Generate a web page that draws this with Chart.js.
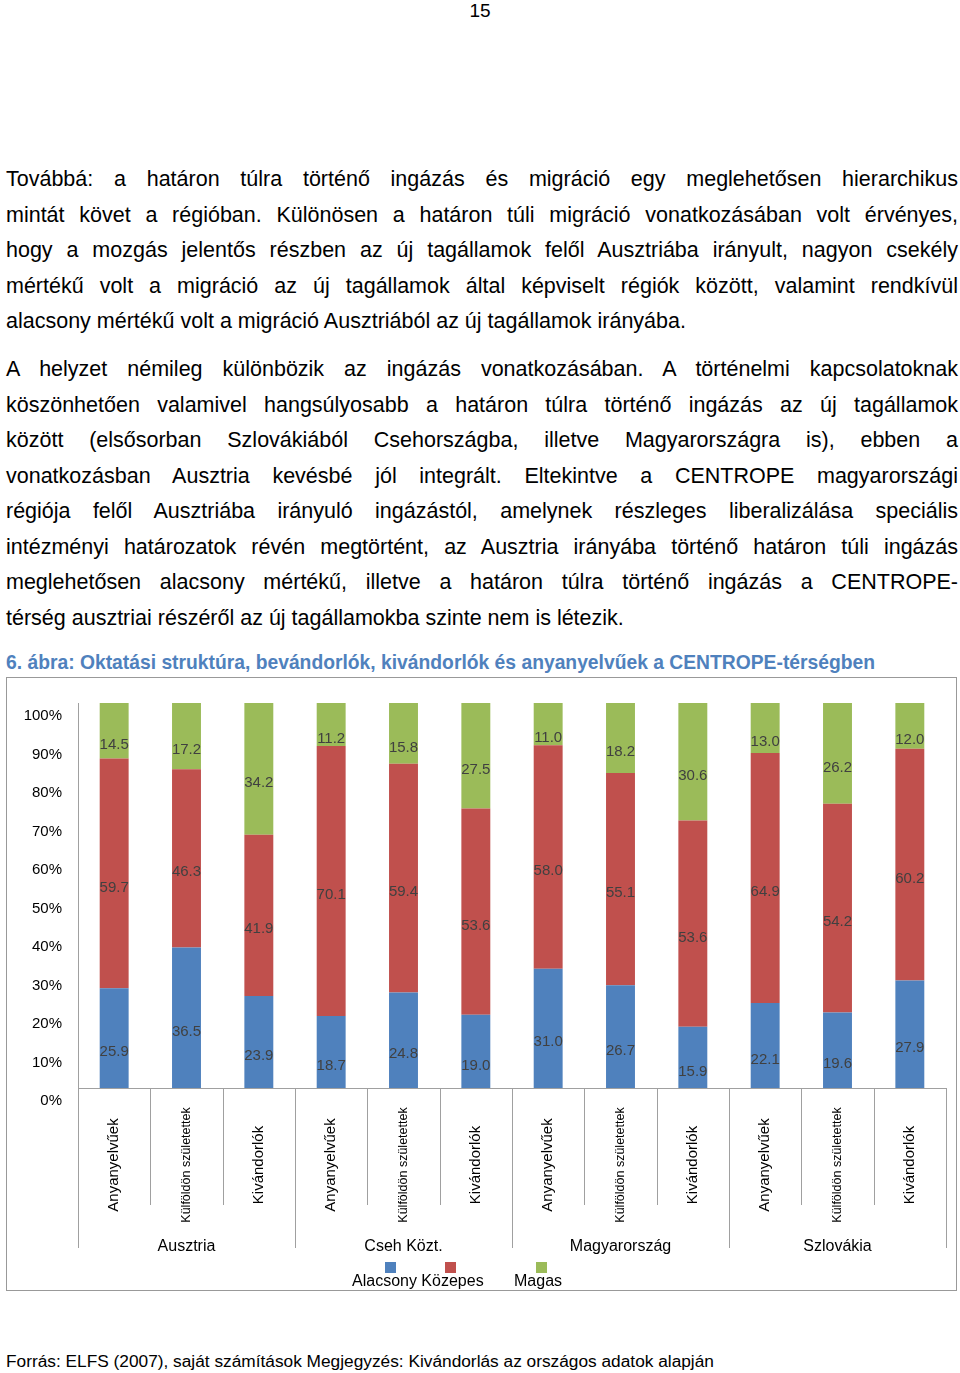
<!DOCTYPE html>
<html><head><meta charset="utf-8">
<script src="https://cdn.jsdelivr.net/npm/chart.js@4/dist/chart.umd.min.js"></script>
<style>
body{margin:0;width:960px;height:1373px;position:relative;font-family:"Liberation Sans",Arial,sans-serif;background:#fff;}
.p{position:absolute;left:6px;width:952px;font-size:21.5px;line-height:35.5px;text-align:justify;text-align-last:justify;color:#000;margin:0}
.last{text-align-last:left}
#box{position:absolute;left:6px;top:677px;width:951px;height:614px;border:1px solid #999;box-sizing:border-box}
canvas{position:absolute;left:0;top:0}
</style></head><body>
<div style="position:absolute;top:0;left:0;width:960px;text-align:center;font-size:19px">15</div>
<p class="p" style="top:162px">Továbbá: a határon túlra történő ingázás és migráció egy meglehetősen hierarchikus<br>mintát követ a régióban. Különösen a határon túli migráció vonatkozásában volt érvényes,<br>hogy a mozgás jelentős részben az új tagállamok felől Ausztriába irányult, nagyon csekély<br>mértékű volt a migráció az új tagállamok által képviselt régiók között, valamint rendkívül</p>
<p class="p last" style="top:304px">alacsony mértékű volt a migráció Ausztriából az új tagállamok irányába.</p>
<p class="p" style="top:352px">A helyzet némileg különbözik az ingázás vonatkozásában. A történelmi kapcsolatoknak<br>köszönhetően valamivel hangsúlyosabb a határon túlra történő ingázás az új tagállamok<br>között (elsősorban Szlovákiából Csehországba, illetve Magyarországra is), ebben a<br>vonatkozásban Ausztria kevésbé jól integrált. Eltekintve a CENTROPE magyarországi<br>régiója felől Ausztriába irányuló ingázástól, amelynek részleges liberalizálása speciális<br>intézményi határozatok révén megtörtént, az Ausztria irányába történő határon túli ingázás<br>meglehetősen alacsony mértékű, illetve a határon túlra történő ingázás a CENTROPE-</p>
<p class="p last" style="top:601px">térség ausztriai részéről az új tagállamokba szinte nem is létezik.</p>
<div style="position:absolute;left:6px;top:652px;font-size:19.3px;font-weight:bold;color:#4F81BD;white-space:nowrap">6. ábra: Oktatási struktúra, bevándorlók, kivándorlók és anyanyelvűek a CENTROPE-térségben</div>
<div id="box"><canvas id="c" width="951" height="614"></canvas></div>
<div style="position:absolute;left:6px;top:1351px;font-size:17.3px;white-space:nowrap">Forrás: ELFS (2007), saját számítások Megjegyzés: Kivándorlás az országos adatok alapján</div>
<script>
const subLabels=["Anyanyelvűek","Külföldön születettek","Kivándorlók","Anyanyelvűek","Külföldön születettek","Kivándorlók","Anyanyelvűek","Külföldön születettek","Kivándorlók","Anyanyelvűek","Külföldön születettek","Kivándorlók"];
const groups=["Ausztria","Cseh Közt.","Magyarország","Szlovákia"];
const alacsony=[25.9,36.5,23.9,18.7,24.8,19.0,31.0,26.7,15.9,22.1,19.6,27.9];
const kozepes=[59.7,46.3,41.9,70.1,59.4,53.6,58.0,55.1,53.6,64.9,54.2,60.2];
const magas=[14.5,17.2,34.2,11.2,15.8,27.5,11.0,18.2,30.6,13.0,26.2,12.0];
const yTicks=[0,10,20,30,40,50,60,70,80,90,100];
const F='"Liberation Sans",Arial,sans-serif';
const deco={id:'deco',afterDatasetsDraw(ch){
 const c=ch.ctx,x=ch.scales.x,ar=ch.chartArea;
 c.save();
 c.fillStyle='#404040';c.font='15px '+F;c.textAlign='center';c.textBaseline='middle';
 ch.data.datasets.forEach((ds,di)=>{ch.getDatasetMeta(di).data.forEach((b,i)=>{
   const mid=(b.y+b.base)/2; c.fillText(ds.data[i].toFixed(1),b.x,mid+14);});});
 c.strokeStyle='#a0a0a0';c.lineWidth=1;
 c.beginPath();c.moveTo(ar.left,ar.bottom+0.5);c.lineTo(ar.right,ar.bottom+0.5);c.stroke();
 const w=(ar.right-ar.left)/12;
 for(let i=0;i<=12;i++){const xx=Math.round(ar.left+i*w)+0.5;c.beginPath();c.moveTo(xx,ar.bottom);c.lineTo(xx,i%3==0?ar.bottom+160:ar.bottom+117);c.stroke();}
 c.fillStyle='#000';
 subLabels.forEach((l,i)=>{c.save();c.translate(x.getPixelForValue(i),ar.bottom+77);c.rotate(-Math.PI/2);
   c.font=(l.startsWith('Kül')?'12.5px ':'15px ')+F;c.fillText(l,0,0);c.restore();});
 c.font='16px '+F;
 groups.forEach((g,k)=>c.fillText(g,ar.left+(k*3+1.5)*w,ar.bottom+159));
 const lg=[['#4F81BD',384,'Alacsony'],['#C0504D',444,'Közepes'],['#9BBB59',535,'Magas']];
 lg.forEach(([col,px,t])=>{c.fillStyle=col;c.fillRect(px-6,ar.bottom+174,11,11);});
 c.fillStyle='#000';c.textAlign='left';c.fillText('Alacsony Közepes',345,ar.bottom+194);c.fillText('Magas',507,ar.bottom+194);
 c.restore();}};
new Chart(document.getElementById('c'),{type:'bar',
 data:{labels:subLabels,datasets:[
  {label:'Alacsony',data:alacsony,backgroundColor:'#4F81BD'},
  {label:'Közepes',data:kozepes,backgroundColor:'#C0504D'},
  {label:'Magas',data:magas,backgroundColor:'#9BBB59'}]},
 options:{responsive:false,animation:false,devicePixelRatio:1,
  layout:{padding:{left:0,right:12,top:8,bottom:196}},
  plugins:{legend:{display:false},tooltip:{enabled:false}},
  datasets:{bar:{categoryPercentage:0.4,barPercentage:1}},
  scales:{
   x:{stacked:true,grid:{display:false},border:{display:false},ticks:{display:false}},
   y:{stacked:true,min:0,max:100,afterBuildTicks:a=>{a.ticks=yTicks.map(v=>({value:v}))},
      afterFit:a=>{a.width=71},
      grid:{display:false,drawTicks:false},border:{display:true,color:'#a0a0a0'},
      ticks:{callback:v=>v+'%',labelOffset:13,padding:16,color:'#000',font:{size:15,family:F}}}}},
 plugins:[deco]});
</script>
</body></html>
